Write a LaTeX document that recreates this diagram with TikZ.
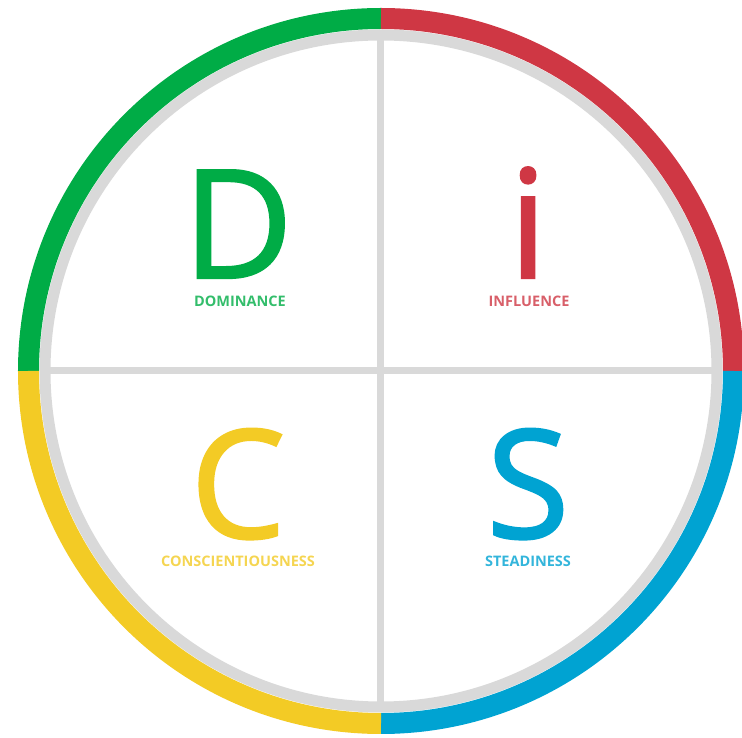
\documentclass[tikz,border=0pt]{standalone}
\usepackage{fontspec}
\setmainfont{Open Sans}
\newfontfamily\discfont{Open Sans}[FakeBold=1.5]
\usepackage{xcolor}
\usepackage{tikz}
\definecolor{discgreen}{HTML}{00AC46}
\definecolor{discred}{HTML}{CF3744}
\definecolor{discyellow}{HTML}{F3CB25}
\definecolor{discblue}{HTML}{00A3D2}
\definecolor{ringgray}{HTML}{D9D9D9}
\tikzset{
  bigletter/.style={anchor=base, inner sep=0pt, text depth=0pt, font=\discfont\fontsize{151}{151}\selectfont},
  smalllabel/.style={anchor=center, inner sep=0pt, font=\fontsize{14.5}{15}\selectfont\bfseries},
  band/.style={line width=21pt},
  divider/.style={ringgray, line width=7pt}
}
\begin{document}
\begin{tikzpicture}[x=1pt,y=1pt]

\useasboundingbox (-381,-367) rectangle (361,371);

\draw[ringgray, line width=11pt] (0,0) circle (336pt);

\draw[band, discgreen] (180:352.5pt) arc (180:90:352.5pt);
\draw[band, discred] (90:352.5pt) arc (90:0:352.5pt);
\draw[band, discblue] (0:352.5pt) arc (0:-90:352.5pt);
\draw[band, discyellow] (270:352.5pt) arc (270:180:352.5pt);

\coordinate (top) at (0,336);
\coordinate (bottom) at (0,-336);
\coordinate (left) at (-336,0);
\coordinate (right) at (336,0);
\draw[divider] (top) -- (bottom);
\draw[divider] (left) -- (right);

\node[bigletter, text=discgreen] (d) at (-143,93) {D};
\node[bigletter, text=discred] (i) at (147,93) {i};
\node[bigletter, text=discyellow] (c) at (-143,-167) {C};
\node[bigletter, text=discblue] (s) at (147,-167) {S};

\node[smalllabel, text=discgreen!80] (dlabel) at (-141,70) {DOMINANCE};
\node[smalllabel, text=discred!80] (ilabel) at (148,70) {INFLUENCE};
\node[smalllabel, text=discyellow!80] (clabel) at (-143,-190) {CONSCIENTIOUSNESS};
\node[smalllabel, text=discblue!80] (slabel) at (147,-190) {STEADINESS};

\end{tikzpicture}
\end{document}
